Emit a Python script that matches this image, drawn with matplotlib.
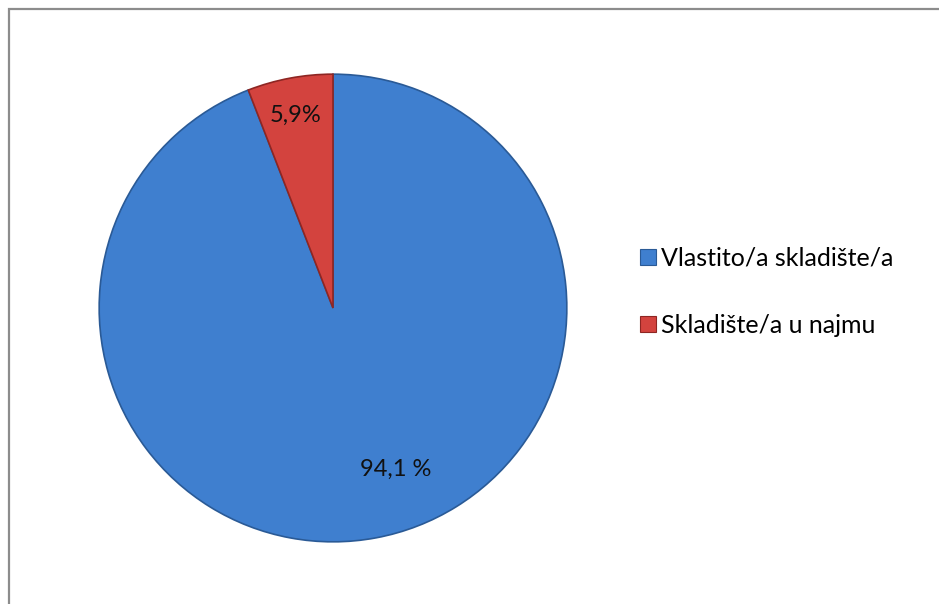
import numpy as np
import matplotlib
matplotlib.use('Agg')
import matplotlib.pyplot as plt
from matplotlib.patches import Rectangle
from matplotlib.lines import Line2D

# data
labels = ['Vlastito/a skladište/a', 'Skladište/a u najmu']
values = [94.1, 5.9]
value_texts = ['94,1 %', '5,9%']
colors = ['#3f7fcf', '#d3433e']
edge_colors = ['#2a5a96', '#8e2623']

plt.rcParams['font.family'] = ['Lato', 'DejaVu Sans']

W, H = 939, 604
fig = plt.figure(figsize=(W / 100, H / 100), dpi=100)

# pie centre / radius in pixels
cx, cy, r = 333, 308, 235
ax = fig.add_axes([(cx - r) / W, 1 - (cy + r) / H, 2 * r / W, 2 * r / H])

wedges, _ = ax.pie(values, colors=colors, startangle=90, counterclock=False,
                   radius=1.0, wedgeprops=dict(linewidth=1.2))
for w, ec in zip(wedges, edge_colors):
    w.set_edgecolor(ec)

# value labels
label_pos = [(0.74, -68.7), (0.84, 101.0)]
for txt, (dist, ang) in zip(value_texts, label_pos):
    a = np.deg2rad(ang)
    ax.text(dist * np.cos(a), dist * np.sin(a), txt, ha='center', va='center',
            fontsize=17, color='#111111')

ax.set_xlim(-1.005, 1.005)
ax.set_ylim(-1.005, 1.005)
ax.set_aspect('equal')
ax.axis('off')

# legend
handles = [Line2D([0], [0], marker='s', linestyle='', markersize=12,
                  markerfacecolor=c, markeredgecolor=ec, markeredgewidth=0.8)
           for c, ec in zip(colors, edge_colors)]
fig.legend(handles, labels, loc='upper left', bbox_to_anchor=(627 / W, 1 - 234 / H),
           frameon=False, fontsize=18, handlelength=0.7, handletextpad=0.15,
           labelspacing=1.78, borderpad=0)

# chart frame (only top and left edges visible)
fig.add_artist(Rectangle((8.5 / W, -0.1), 1.2, 1 - 9 / H + 0.1, transform=fig.transFigure,
                         fill=False, edgecolor='#8c8c8c', linewidth=1.6))

fig.savefig('out.png', dpi=100)
